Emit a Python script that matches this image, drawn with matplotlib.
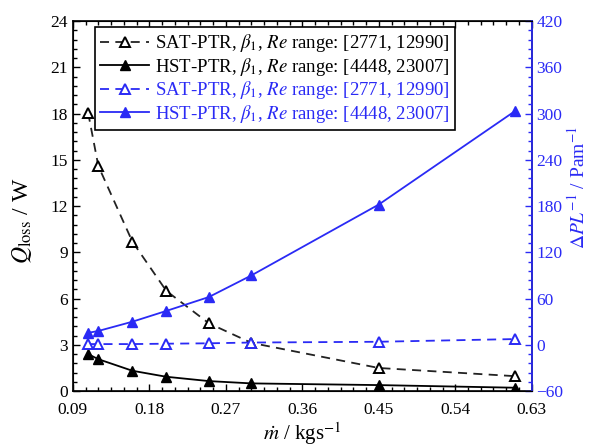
import matplotlib
matplotlib.use("Agg")
import matplotlib.pyplot as plt
from matplotlib.ticker import MultipleLocator

plt.rcParams['font.family'] = ['Liberation Serif', 'DejaVu Serif']
plt.rcParams['mathtext.fontset'] = 'stix'

# mass flow rate, kg/s
m_dot = [0.108, 0.12, 0.16, 0.20, 0.25, 0.30, 0.45, 0.61]

# heat loss, W (left axis)
q_sat = [18.05, 14.6, 9.7, 6.5, 4.4, 3.13, 1.5, 0.97]
q_hst = [2.4, 2.07, 1.32, 0.93, 0.65, 0.5, 0.39, 0.22]

# pressure drop per length, Pa/m (right axis)
dp_sat = [1, 1, 1, 1.5, 2, 3, 4, 7.5]
dp_hst = [15.6, 18, 30, 44, 62, 90, 182, 303]

blue = '#2a2af5'

fig, ax1 = plt.subplots(figsize=(6.07, 4.48), dpi=100)
fig.subplots_adjust(left=0.120, right=0.876, top=0.953, bottom=0.127)

ax1.plot(m_dot, q_sat, color='#222222', ls=(0, (5, 3.5)), lw=1.3, marker='^',
         ms=7, mfc='white', mec='black', mew=1.4,
         label=r'SAT-PTR, $\beta_1$, $Re$ range: [2771, 12990]')
ax1.plot(m_dot, q_hst, color='black', ls='-', lw=1.3, marker='^',
         ms=7, mfc='black', mec='black',
         label=r'HST-PTR, $\beta_1$, $Re$ range: [4448, 23007]')

ax1.set_xlim(0.09, 0.63)
ax1.set_ylim(0, 24)
ax1.xaxis.set_major_locator(MultipleLocator(0.09))
ax1.xaxis.set_minor_locator(MultipleLocator(0.015))
ax1.yaxis.set_major_locator(MultipleLocator(3))
ax1.yaxis.set_minor_locator(MultipleLocator(0.6))
ax1.xaxis.set_major_formatter(plt.FuncFormatter(lambda v, p: '%.2f' % v))
ax1.tick_params(which='both', direction='in', top=True, labelsize=12.5)
ax1.tick_params(which='major', length=5, width=1)
ax1.tick_params(which='minor', length=3, width=1)
ax1.tick_params(axis='x', pad=7.5)
ax1.set_xlabel(r'$\dot{m}$ / kgs$^{-1}$', fontsize=15, labelpad=2)
ax1.set_ylabel(r'$Q_{\rm loss}$ / W', fontsize=17, labelpad=4)
ax1.yaxis.set_label_coords(-0.085, 0.46)
for s in ax1.spines.values():
    s.set_linewidth(1.2)

ax2 = ax1.twinx()
ax2.plot(m_dot, dp_sat, color=blue, ls=(0, (5, 3.5)), lw=1.3, marker='^',
         ms=7, mfc='white', mec=blue, mew=1.4,
         label=r'SAT-PTR, $\beta_1$, $Re$ range: [2771, 12990]')
ax2.plot(m_dot, dp_hst, color=blue, ls='-', lw=1.3, marker='^',
         ms=7, mfc=blue, mec=blue,
         label=r'HST-PTR, $\beta_1$, $Re$ range: [4448, 23007]')
ax2.set_ylim(-60, 420)
ax2.yaxis.set_major_locator(MultipleLocator(60))
ax2.yaxis.set_minor_locator(MultipleLocator(12))
ax2.tick_params(which='both', direction='in', colors=blue, labelsize=12.5)
ax2.tick_params(which='major', length=5, width=1)
ax2.tick_params(which='minor', length=3, width=1)
ax2.spines['right'].set_color(blue)
ax2.spines['right'].set_linewidth(1.2)
ax2.set_ylabel(r'$\Delta PL^{-1}$ / Pam$^{-1}$', color=blue, fontsize=14)
ax2.yaxis.set_label_coords(1.075, 0.55)

# one legend for both axes, text coloured like the lines
lines, labels = ax1.get_legend_handles_labels()
lines2, labels2 = ax2.get_legend_handles_labels()
leg = ax2.legend(lines + lines2, labels + labels2, loc='upper left',
                 bbox_to_anchor=(0.048, 0.985), fontsize=13.5, fancybox=False,
                 framealpha=1, edgecolor='black', labelspacing=0.08,
                 handlelength=2.6, handletextpad=0.3, borderpad=0.3,
                 borderaxespad=0)
leg.get_frame().set_linewidth(1.2)
for txt, c in zip(leg.get_texts(), ['black', 'black', blue, blue]):
    txt.set_color(c)

fig.savefig('out.png', dpi=100)
